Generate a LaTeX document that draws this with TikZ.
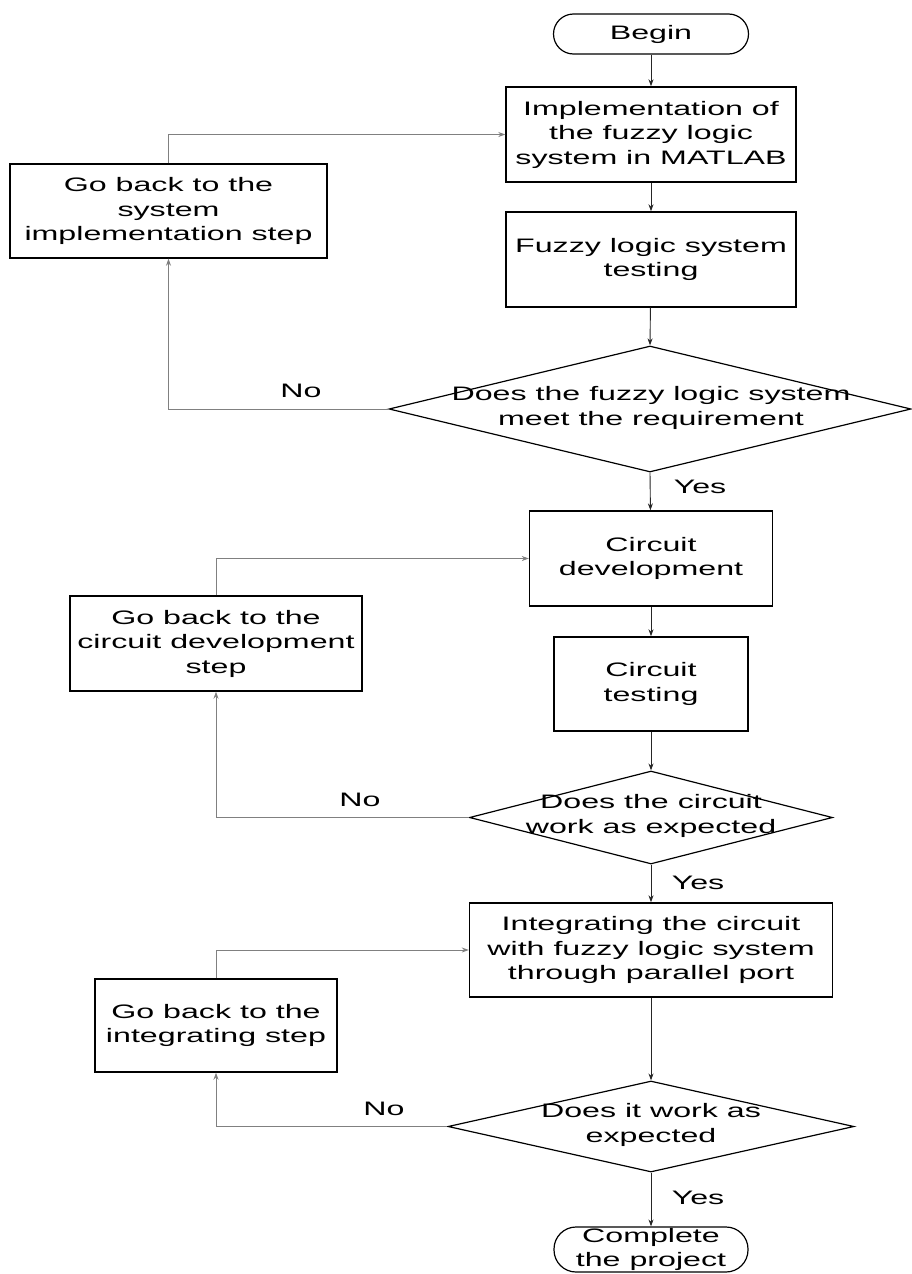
\documentclass[tikz,border=0pt]{standalone}
\usepackage{fontspec}
\setmainfont{Liberation Sans}[FakeStretch=1.65]
\usetikzlibrary{shapes.geometric,arrows.meta}

\begin{document}
\begin{tikzpicture}[x=1pt,y=-1pt,
  every node/.style={font=\fontsize{19.5}{24.5}\selectfont, inner sep=0pt},
  procbox/.style={draw, line width=1.4pt, rectangle, align=center},
  termbox/.style={draw, line width=1.2pt, rectangle, rounded corners=20pt, align=center},
  decbox/.style={draw, line width=1.2pt, diamond},
  dtext/.style={align=center},
  flow/.style={draw=black!85, line width=0.9pt, -{Stealth[length=7pt,width=5pt]}},
  back/.style={draw=black!50, line width=0.9pt, -{Stealth[length=7pt,width=5pt]}}
]
\useasboundingbox (0,0) rectangle (911,1274);

% main column
\node[termbox, minimum width=195pt, minimum height=40pt] (begin) at (651,34) {Begin};
\node[procbox, minimum width=290pt, minimum height=95pt] (impl) at (651,134.5)
  {Implementation of\\the fuzzy logic\\system in MATLAB};
\node[procbox, minimum width=290pt, minimum height=95pt] (ftest) at (651,259.5)
  {Fuzzy logic system\\testing};
\node[decbox, minimum width=522pt, minimum height=126pt] (d1) at (650,409) {};
\node[dtext] (d1t) at (651,408) {Does the fuzzy logic system\\meet the requirement};
\node[procbox, minimum width=243pt, minimum height=95pt] (cdev) at (651,558.5)
  {Circuit\\development};
\node[procbox, minimum width=194pt, minimum height=94pt] (ctest) at (651,684)
  {Circuit\\testing};
\node[decbox, minimum width=363pt, minimum height=93pt] (d2) at (651,817.5) {};
\node[dtext] (d2t) at (651,816) {Does the circuit\\work as expected};
\node[procbox, minimum width=363pt, minimum height=94pt] (integ) at (651,950)
  {Integrating the circuit\\with fuzzy logic system\\through parallel port};
\node[decbox, minimum width=406pt, minimum height=91pt] (d3) at (651,1126.5) {};
\node[dtext] (d3t) at (651,1125) {Does it work as\\expected};
\node[termbox, rounded corners=22pt, minimum width=194pt, minimum height=45pt] (finish) at (651,1249.5)
  {Complete\\the project};

% return boxes
\node[procbox, minimum width=317pt, minimum height=94pt] (r1) at (168.5,211)
  {Go back to the\\system\\implementation step};
\node[procbox, minimum width=292pt, minimum height=95pt] (r2) at (216,643.5)
  {Go back to the\\circuit development\\step};
\node[procbox, minimum width=242pt, minimum height=93pt] (r3) at (216,1025.5)
  {Go back to the\\integrating step};

% forward flow
\draw[flow] (begin) -- (impl);
\draw[flow] (impl) -- (ftest);
\draw[flow] (ftest) -- (d1.north);
\draw[flow] (d1.south) -- (cdev);
\draw[flow] (cdev) -- (ctest);
\draw[flow] (ctest) -- (d2.north);
\draw[flow] (d2.south) -- (integ);
\draw[flow] (integ) -- (d3.north);
\draw[flow] (d3.south) -- (finish);

% "No" branches and returns
\draw[back] (d1.west) -| (r1.south);
\draw[back] (r1.north) |- (impl.west);
\draw[back] (d2.west) -| (r2.south);
\draw[back] (r2.north) |- (cdev.west);
\draw[back] (d3.west) -| (r3.south);
\draw[back] (r3.north) |- (integ.west);

% branch labels
\node (no1) at (301,391) {No};
\node (yes1) at (700,487) {Yes};
\node (no2) at (360,800) {No};
\node (yes2) at (698,883) {Yes};
\node (no3) at (384,1109) {No};
\node (yes3) at (698,1198) {Yes};
\end{tikzpicture}
\end{document}
